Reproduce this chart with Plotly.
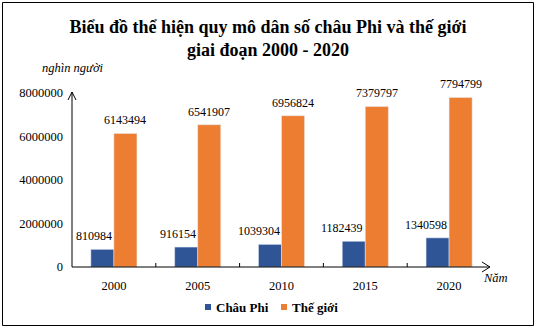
import unicodedata
import plotly.graph_objects as go

# Population (thousand people)
years = ["2000", "2005", "2010", "2015", "2020"]
africa = [810984, 916154, 1039304, 1182439, 1340598]
world = [6143494, 6541907, 6956824, 7379797, 7794799]
y_ticks = [0, 2000000, 4000000, 6000000, 8000000]

BLUE = "#2F5597"
ORANGE = "#ED7D31"
FONT = "Liberation Serif"

W, H = 536, 329
L, R, T, B = 72, 45, 93, 62
PW, PH = W - L - R, H - T - B


def vn(s):
    # decomposed form so the serif face can stack its own combining marks
    return unicodedata.normalize("NFD", s)


def px(x):
    return (x - L) / PW


def py(y):
    return (H - B - y) / PH


fig = go.Figure()
fig.add_trace(go.Bar(x=years, y=africa, name=vn("Châu Phi"), marker_color=BLUE))
fig.add_trace(go.Bar(x=years, y=world, name=vn("Thế giới"), marker_color=ORANGE))

annotations = []
for i, (a, w) in enumerate(zip(africa, world)):
    annotations.append(dict(x=i, y=a, xref="x", yref="y", text=str(a),
                            showarrow=False, xanchor="right", yanchor="bottom",
                            yshift=4, font=dict(size=12, color="#000")))
    annotations.append(dict(x=i, y=w, xref="x", yref="y", text=str(w),
                            showarrow=False, xanchor="center", yanchor="bottom",
                            xshift=11.5, yshift=4, font=dict(size=12, color="#000")))

# Axis captions
annotations.append(dict(x=px(73), y=py(68), xref="paper", yref="paper",
                        text="<i>%s</i>" % vn("nghìn người"), showarrow=False,
                        xanchor="center", yanchor="middle",
                        font=dict(size=12.5, color="#000")))
annotations.append(dict(x=px(496), y=py(278), xref="paper", yref="paper",
                        text="<i>%s</i>" % vn("Năm"), showarrow=False,
                        xanchor="center", yanchor="middle",
                        font=dict(size=12.5, color="#000")))

# Legend drawn by hand
legend_items = [(vn("Châu Phi"), BLUE, 205), (vn("Thế giới"), ORANGE, 281)]
shapes = []
for name, col, x0 in legend_items:
    shapes.append(dict(type="rect", xref="paper", yref="paper",
                       x0=px(x0), x1=px(x0 + 6), y0=py(310), y1=py(304),
                       fillcolor=col, line=dict(width=0)))
    annotations.append(dict(x=px(x0 + 9), y=py(307), xref="paper", yref="paper",
                            text="<b>%s</b>" % name, showarrow=False,
                            xanchor="left", yanchor="middle",
                            font=dict(size=13, color="#000")))

line = dict(color="#000", width=1)
# y axis with open arrow head
shapes.append(dict(type="line", xref="paper", yref="paper",
                   x0=0, x1=0, y0=0, y1=py(92), line=line))
shapes.append(dict(type="path", xref="paper", yref="paper",
                   path="M %f,%f L %f,%f L %f,%f" % (px(68), py(100), 0, py(92), px(76), py(100)),
                   line=line))
# x axis with open arrow head
shapes.append(dict(type="line", xref="paper", yref="paper",
                   x0=0, x1=px(490), y0=0, y1=0, line=line))
shapes.append(dict(type="path", xref="paper", yref="paper",
                   path="M %f,%f L %f,%f L %f,%f" % (px(482), py(262), px(490), 0, px(482), py(272)),
                   line=line))
# tick marks between categories
for k in range(1, len(years)):
    shapes.append(dict(type="line", xref="paper", yref="paper",
                       x0=k / len(years), x1=k / len(years), y0=0, y1=py(263), line=line))
# outer frame
shapes.append(dict(type="rect", xref="paper", yref="paper",
                   x0=px(2.5), x1=px(533.5), y0=py(325.5), y1=py(2.5),
                   line=line, fillcolor="rgba(0,0,0,0)"))

title = vn("Biểu đồ thể hiện quy mô dân số châu Phi và thế giới") + "<br>" + vn("giai đoạn 2000 - 2020")

fig.update_layout(
    width=W, height=H,
    margin=dict(l=L, r=R, t=T, b=B),
    paper_bgcolor="white", plot_bgcolor="white",
    font=dict(family=FONT, size=12, color="#000"),
    barmode="group", bargap=0.45, bargroupgap=0,
    showlegend=False,
    title=dict(text="<b>%s</b>" % title,
               x=0.5, xref="container", xanchor="center", y=1 - 33 / H, yanchor="middle",
               font=dict(size=18, color="#000", family=FONT)),
    xaxis=dict(type="category", range=[-0.5, len(years) - 0.5], showgrid=False,
               showline=False, zeroline=False, ticks="", ticklabelstandoff=9,
               tickfont=dict(size=12.5, family=FONT)),
    yaxis=dict(range=[0, 8000000], tickvals=y_ticks, tickformat="d",
               showgrid=False, showline=False, zeroline=False, ticks="",
               ticklabelstandoff=8, tickfont=dict(size=12.5, family=FONT)),
    annotations=annotations,
    shapes=shapes,
)

fig.write_html("out.html")
